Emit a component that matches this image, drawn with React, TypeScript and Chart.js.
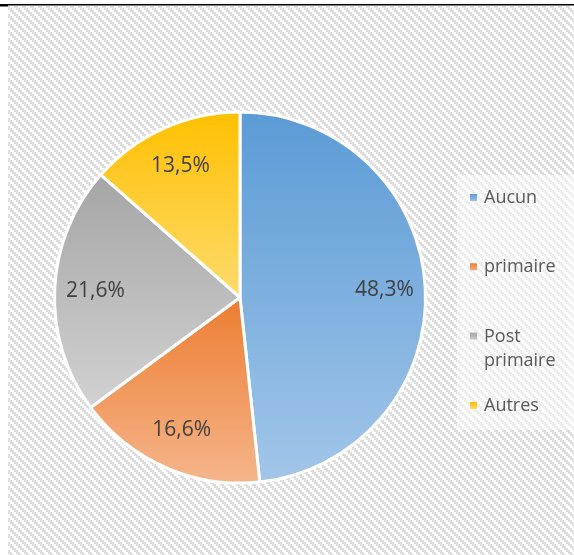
import React, { useEffect, useRef } from "react";
import { Chart, registerables } from "chart.js";

Chart.register(...registerables);

const categories = ["Aucun", "primaire", "Post\nprimaire", "Autres"];
const values = [48.3, 16.6, 21.6, 13.5];
const valueLabels = ["48,3%", "16,6%", "21,6%", "13,5%"];
const darkColors = ["#5B9BD5", "#ED7D31", "#A5A5A5", "#FFC000"];
const lightColors = ["#A2C6E9", "#F5B68C", "#D2D2D2", "#FFDB6E"];

const W = 574;
const H = 555;
const FONT = '"Open Sans", sans-serif';

function makePattern(ctx: CanvasRenderingContext2D) {
  const c = document.createElement("canvas");
  c.width = 8;
  c.height = 8;
  const g = c.getContext("2d")!;
  g.fillStyle = "#ffffff";
  g.fillRect(0, 0, 8, 8);
  g.fillStyle = "#dedede";
  for (let y = 0; y < 8; y++) {
    for (let x = 0; x < 8; x++) {
      const d = (((Math.floor(x / 2) - Math.floor(y / 2)) % 4) + 4) % 4;
      if (d === 0 || d === 1) g.fillRect(x, y, 1, 1);
    }
  }
  return ctx.createPattern(c, "repeat")!;
}

function sliceGradient(context: any) {
  const chart = context.chart;
  const area = chart.chartArea;
  const i = context.dataIndex;
  if (!area) return darkColors[i];
  const cx = (area.left + area.right) / 2;
  const cy = (area.top + area.bottom) / 2;
  const r = Math.min(area.right - area.left, area.bottom - area.top) / 2;
  const total = values.reduce((a, b) => a + b, 0);
  let start = -Math.PI / 2;
  for (let k = 0; k < i; k++) start += (values[k] / total) * Math.PI * 2;
  const end = start + (values[i] / total) * Math.PI * 2;
  const ys = [cy, cy + r * Math.sin(start), cy + r * Math.sin(end)];
  for (let a = -Math.PI / 2; a < Math.PI * 2; a += Math.PI) {
    if (a >= start && a <= end) ys.push(cy + r * Math.sin(a));
  }
  const y0 = Math.min(...ys);
  const y1 = Math.max(...ys);
  const grad = chart.ctx.createLinearGradient(0, y0, 0, y1 + 1);
  grad.addColorStop(0, darkColors[i]);
  grad.addColorStop(1, lightColors[i]);
  return grad;
}

const backgroundPlugin = {
  id: "bgPattern",
  beforeDraw(chart: any) {
    const ctx = chart.ctx as CanvasRenderingContext2D;
    ctx.save();
    ctx.fillStyle = "#ffffff";
    ctx.fillRect(0, 0, W, H);
    ctx.fillStyle = makePattern(ctx);
    ctx.fillRect(8, 6, W - 8, H - 6);
    // legend box
    ctx.fillStyle = "rgba(255,255,255,0.5)";
    ctx.fillRect(457, 175, W - 457, 255);
    ctx.fillStyle = "#000000";
    ctx.fillRect(0, 4, W, 1.5);
    ctx.fillRect(0, 4, 8, 2.5);
    ctx.restore();
  },
};

const labelsPlugin = {
  id: "sliceLabels",
  afterDatasetsDraw(chart: any) {
    const ctx = chart.ctx as CanvasRenderingContext2D;
    const meta = chart.getDatasetMeta(0);
    ctx.save();
    ctx.font = `21px ${FONT}`;
    ctx.fillStyle = "#404040";
    ctx.textAlign = "center";
    ctx.textBaseline = "middle";
    meta.data.forEach((arc: any, i: number) => {
      const mid = (arc.startAngle + arc.endAngle) / 2;
      const rr = arc.outerRadius * 0.78;
      ctx.fillText(valueLabels[i], arc.x + rr * Math.cos(mid), arc.y + rr * Math.sin(mid));
    });
    ctx.restore();
  },
};

const legendPlugin = {
  id: "customLegend",
  afterDraw(chart: any) {
    const ctx = chart.ctx as CanvasRenderingContext2D;
    ctx.save();
    ctx.font = `18px ${FONT}`;
    ctx.textAlign = "left";
    ctx.textBaseline = "middle";
    const top = 198;
    const step = 69.3;
    categories.forEach((label, i) => {
      const y = top + i * step;
      const g = ctx.createLinearGradient(0, y - 4, 0, y + 4);
      g.addColorStop(0, darkColors[i]);
      g.addColorStop(1, lightColors[i]);
      ctx.fillStyle = g;
      ctx.fillRect(470, y - 4, 7, 7);
      ctx.fillStyle = "#595959";
      label.split("\n").forEach((line, j) => {
        ctx.fillText(line, 484, y + j * 24);
      });
    });
    ctx.restore();
  },
};

export default function App() {
  const ref = useRef<HTMLCanvasElement | null>(null);

  useEffect(() => {
    if (!ref.current) return;
    const chart = new Chart(ref.current, {
      type: "pie",
      data: {
        labels: categories,
        datasets: [
          {
            data: values,
            backgroundColor: sliceGradient as any,
            borderColor: "#ffffff",
            borderWidth: 3,
          },
        ],
      },
      options: {
        responsive: false,
        animation: false,
        layout: { padding: { left: 53, top: 110, right: 147, bottom: 70 } },
        plugins: {
          legend: { display: false },
          tooltip: { enabled: false },
        },
      },
      plugins: [backgroundPlugin, labelsPlugin, legendPlugin],
    });
    return () => chart.destroy();
  }, []);

  return (
    <div style={{ position: "absolute", left: 0, top: 0, width: W, height: H }}>
      <canvas ref={ref} width={W} height={H} style={{ display: "block" }} />
    </div>
  );
}
